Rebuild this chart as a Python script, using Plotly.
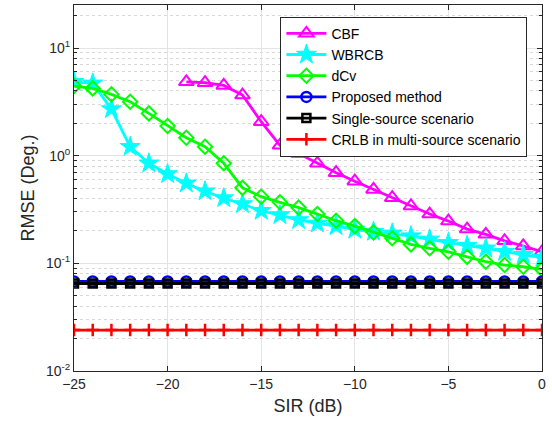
import plotly.graph_objects as go

sir = list(range(-25, 1))
sir_cbf = list(range(-19, 1))
cbf = [4.86, 4.76, 4.5, 3.66, 2.07, 1.25, 1.05, 0.85, 0.695, 0.58, 0.486, 0.407,
       0.341, 0.287, 0.247, 0.208, 0.186, 0.162, 0.145, 0.128]
wbrcb = [4.86, 4.70, 2.71, 1.21, 0.85, 0.676, 0.554, 0.468, 0.404, 0.356, 0.308,
         0.281, 0.253, 0.235, 0.222, 0.206, 0.197, 0.19, 0.179, 0.167, 0.155,
         0.146, 0.138, 0.128, 0.12, 0.113]
dcv = [4.44, 4.22, 3.71, 3.17, 2.47, 1.89, 1.47, 1.21, 0.85, 0.503, 0.416, 0.369,
       0.329, 0.287, 0.249, 0.222, 0.194, 0.171, 0.150, 0.138, 0.128, 0.115,
       0.1035, 0.0965, 0.093, 0.088]
proposed = [0.068] * 26
single = [0.065] * 26
crlb = [0.024] * 26

fig = go.Figure()

def add(x, y, name, color, symbol, size, mlw=2):
    fig.add_trace(go.Scatter(
        x=x, y=y, name=name, mode="lines+markers",
        line=dict(color=color, width=2.8),
        marker=dict(symbol=symbol, size=size, color=color,
                    line=dict(color=color, width=mlw)),
    ))

add(sir_cbf, cbf, "CBF", "#ff00ff", "triangle-up-open", 13)
add(sir, wbrcb, "WBRCB", "#00ffff", "star", 15, 1)
add(sir, dcv, "dCv", "#00ff00", "diamond-open", 11)
add(sir, proposed, "Proposed method", "#0000ff", "circle-open", 10, 2.5)
add(sir, single, "Single-source scenario", "#000000", "square-open", 8, 2.5)
add(sir, crlb, "CRLB in multi-source scenario", "#ff0000", "cross-thin-open", 9, 2.5)

fig.update_layout(
    width=552, height=426,
    margin=dict(l=74, r=10, t=5, b=55),
    paper_bgcolor="white", plot_bgcolor="white",
    font=dict(family="Liberation Sans, Arial, sans-serif", color="#262626", size=14),
    showlegend=True,
    legend=dict(x=0.441, y=0.968, xanchor="left", yanchor="top",
                bgcolor="white", bordercolor="#262626", borderwidth=1,
                font=dict(size=14, color="#000000"), tracegroupgap=0,
                itemwidth=40),
)
fig.update_xaxes(
    range=[-25, 0], tickvals=[-25, -20, -15, -10, -5, 0],
    ticks="inside", ticklen=5, tickcolor="#262626",
    showline=True, linecolor="#262626", linewidth=1, mirror="ticks",
    showgrid=True, gridcolor="#e3e3e3", gridwidth=1, zeroline=False,
    tickfont=dict(size=14),
    title=dict(text="SIR (dB)", font=dict(size=18), standoff=8),
)
fig.update_yaxes(
    type="log", range=[-2, 1.4],
    tickvals=[0.01, 0.1, 1, 10],
    ticktext=["10<sup>-2</sup>", "10<sup>-1</sup>", "10<sup>0</sup>", "10<sup>1</sup>"],
    ticks="inside", ticklen=5, tickcolor="#262626",
    showline=True, linecolor="#262626", linewidth=1, mirror="ticks",
    showgrid=True, gridcolor="#e3e3e3", gridwidth=1, zeroline=False,
    tickfont=dict(size=14),
    minor=dict(tickvals=[m * 10 ** e for e in (-2, -1, 0, 1) for m in range(2, 10) if m * 10 ** e < 25],
               ticks="inside", ticklen=3, tickcolor="#262626",
               showgrid=True, gridcolor="#d8d8d8", griddash="dot", gridwidth=1),
    title=dict(text="RMSE (Deg.)", font=dict(size=18), standoff=6),
)

fig.write_html("out.html")
